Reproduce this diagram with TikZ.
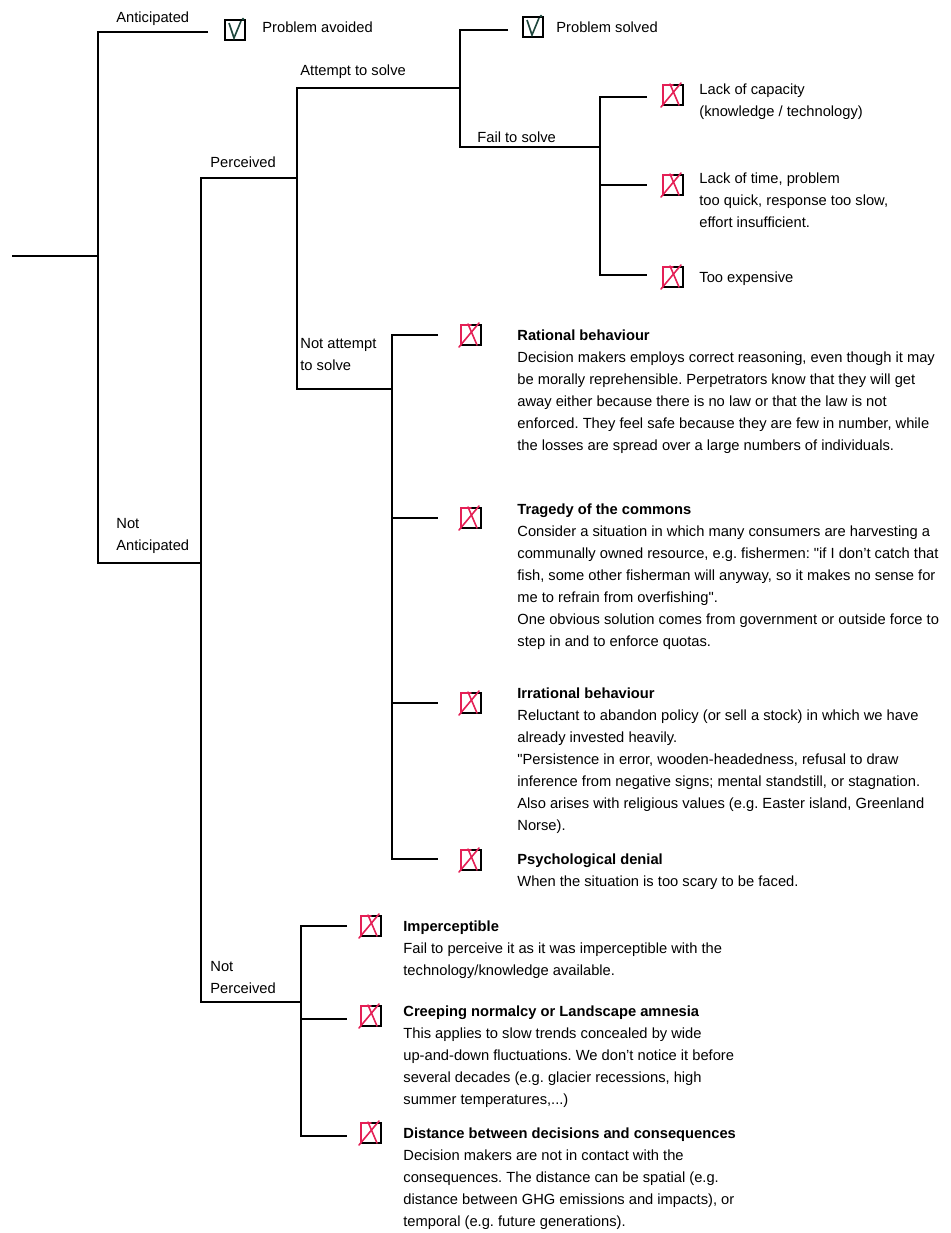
\documentclass[tikz,border=0pt]{standalone}
\usepackage{fontspec}
\setmainfont{Liberation Sans}
\usepackage{tikz}
\definecolor{crossRed}{RGB}{228,32,86}
\definecolor{tickGreen}{RGB}{30,70,60}
\newcommand{\descFont}{\fontsize{7.35pt}{11pt}\selectfont\frenchspacing}
\newcommand{\qq}{\textquotedbl}
\newcommand{\tickBox}[1]{%%
  %% Square with a tick inside.
  \begin{scope}[shift={(#1)}]
    \draw[boxStyle] (-\boxHalf,-\boxHalf) rectangle (\boxHalf,\boxHalf);
    \draw[tickStyle] (-6,-7) -- (-1,8) -- (6,-9);
    \fill[tickGreen] (8,-11) circle[radius=1.5];
  \end{scope}
}
\newcommand{\crossBox}[1]{%%
  %% Square crossed out in red.
  \begin{scope}[shift={(#1)}]
    \draw[boxStyle] (-\boxHalf,-\boxHalf) rectangle (\boxHalf,\boxHalf);
    \draw[crossStyle] (-\boxHalf,\boxHalf) -- (-\boxHalf,-\boxHalf) -- (0,-\boxHalf);
    \draw[crossStyle] (-12,12) -- (8,-12);
    \draw[crossStyle] (-3,-11) -- (6,10);
  \end{scope}
}

\begin{document}
\begin{tikzpicture}[%%
  x=0.5pt,y=-0.5pt,
  treeLine/.style={-,line width=1pt,black},
  boxStyle/.style={line width=0.7pt,black},
  tickStyle/.style={line width=0.8pt,tickGreen},
  crossStyle/.style={line width=0.8pt,crossRed,line cap=round},
  labelStyle/.style={inner sep=0pt,anchor=base west,font=\descFont},
  descStyle/.style={inner sep=0pt,anchor=north west,align=left,font=\descFont}
]
\useasboundingbox (0,0) rectangle (950,1233);
%%
\pgfmathsetmacro{\boxHalf}{10}
\pgfmathsetmacro{\leafLen}{46}
%% Trunk: anticipated or not.
\coordinate (root) at (12,256);
\coordinate (rootJ) at (98,256);
\coordinate (antJ) at (98,32);
\coordinate (antEnd) at (208,32);
\coordinate (notAntJ) at (98,563);
\coordinate (notAntEnd) at (201,563);
\draw[treeLine] (root) -- (rootJ);
\draw[treeLine] (antEnd) -- (antJ) -- (notAntJ) -- (notAntEnd);
%% Perceived or not.
\coordinate (percJ) at (201,178);
\coordinate (percEnd) at (297,178);
\coordinate (notPercJ) at (201,1002);
\coordinate (notPercEnd) at (301,1002);
\draw[treeLine] (percEnd) -- (percJ) -- (notPercJ) -- (notPercEnd);
%% Attempt to solve or not.
\coordinate (attJ) at (297,88);
\coordinate (attEnd) at (460,88);
\coordinate (notAttJ) at (297,389);
\coordinate (notAttEnd) at (392,389);
\draw[treeLine] (attEnd) -- (attJ) -- (notAttJ) -- (notAttEnd);
%% Solved or failed.
\coordinate (solvedJ) at (460,30);
\coordinate (solvedEnd) at (508,30);
\coordinate (failJ) at (460,147);
\coordinate (failEnd) at (600,147);
\draw[treeLine] (solvedEnd) -- (solvedJ) -- (failJ) -- (failEnd);
%% Reasons for failing.
\coordinate (capJ) at (600,97);
\coordinate (capEnd) at (647,97);
\coordinate (timeJ) at (600,185);
\coordinate (timeEnd) at (647,185);
\coordinate (costJ) at (600,275);
\coordinate (costEnd) at (647,275);
\draw[treeLine] (capEnd) -- (capJ) -- (costJ) -- (costEnd);
\draw[treeLine] (timeJ) -- (timeEnd);
%% Reasons for not attempting.
\coordinate (ratJ) at (392,335);
\coordinate (ratEnd) at (392+\leafLen,335);
\coordinate (tragJ) at (392,518);
\coordinate (tragEnd) at (392+\leafLen,518);
\coordinate (irrJ) at (392,703);
\coordinate (irrEnd) at (392+\leafLen,703);
\coordinate (psyJ) at (392,859);
\coordinate (psyEnd) at (392+\leafLen,859);
\draw[treeLine] (ratEnd) -- (ratJ) -- (psyJ) -- (psyEnd);
\draw[treeLine] (tragJ) -- (tragEnd);
\draw[treeLine] (irrJ) -- (irrEnd);
%% Reasons for not perceiving.
\coordinate (impJ) at (301,926);
\coordinate (impEnd) at (301+\leafLen,926);
\coordinate (creepJ) at (301,1019);
\coordinate (creepEnd) at (301+\leafLen,1019);
\coordinate (distJ) at (301,1136);
\coordinate (distEnd) at (301+\leafLen,1136);
\draw[treeLine] (impEnd) -- (impJ) -- (distJ) -- (distEnd);
\draw[treeLine] (creepJ) -- (creepEnd);
%%
%% Check boxes.
\coordinate (avoidBox) at (235,30);
\coordinate (solvedBox) at (533,27);
\coordinate (capBox) at (673,95);
\coordinate (timeBox) at (673,185);
\coordinate (costBox) at (673,277);
\coordinate (ratBox) at (471,335);
\coordinate (tragBox) at (471,518);
\coordinate (irrBox) at (471,703);
\coordinate (psyBox) at (471,860);
\coordinate (impBox) at (371,926);
\coordinate (creepBox) at (371,1016);
\coordinate (distBox) at (371,1133);
\tickBox{avoidBox}
\tickBox{solvedBox}
\crossBox{capBox}
\crossBox{timeBox}
\crossBox{costBox}
\crossBox{ratBox}
\crossBox{tragBox}
\crossBox{irrBox}
\crossBox{psyBox}
\crossBox{impBox}
\crossBox{creepBox}
\crossBox{distBox}
%%
%% Branch labels.
\node[labelStyle] (antLbl) at (116,22) {Anticipated};
\node[descStyle] (notAntLbl) at (116,518) {Not\\Anticipated};
\node[labelStyle] (percLbl) at (210,167) {Perceived};
\node[descStyle] (notPercLbl) at (210,961) {Not\\Perceived};
\node[labelStyle] (attLbl) at (300,75) {Attempt to solve};
\node[descStyle] (notAttLbl) at (300,338) {Not attempt\\to solve};
\node[labelStyle] (failLbl) at (477,142) {Fail to solve};
%%
%% Outcomes.
\node[labelStyle] (avoidTxt) at (262,32) {Problem avoided};
\node[labelStyle] (solvedTxt) at (556,32) {Problem solved};
\node[descStyle] (capTxt) at (699,83) {Lack of capacity\\(knowledge / technology)};
\node[descStyle] (timeTxt) at (699,172) {Lack of time, problem\\too quick, response too slow,\\effort insufficient.};
\node[labelStyle] (costTxt) at (699,282) {Too expensive};
\node[descStyle] (ratTxt) at (517,329) {\textbf{Rational behaviour}\\
  Decision makers employs correct reasoning, even though it may\\
  be morally reprehensible. Perpetrators know that they will get\\
  away either because there is no law or that the law is not\\
  enforced. They feel safe because they are few in number, while\\
  the losses are spread over a large numbers of individuals.};
\node[descStyle] (tragTxt) at (517,503) {\textbf{Tragedy of the commons}\\
  Consider a situation in which many consumers are harvesting a\\
  communally owned resource, e.g. fishermen: \qq if I don't catch that\\
  fish, some other fisherman will anyway, so it makes no sense for\\
  me to refrain from overfishing\qq.\\
  One obvious solution comes from government or outside force to\\
  step in and to enforce quotas.};
\node[descStyle] (irrTxt) at (517,687) {\textbf{Irrational behaviour}\\
  Reluctant to abandon policy (or sell a stock) in which we have\\
  already invested heavily.\\
  \qq Persistence in error, wooden-headedness, refusal to draw\\
  inference from negative signs; mental standstill, or stagnation.\\
  Also arises with religious values (e.g. Easter island, Greenland\\
  Norse).};
\node[descStyle] (psyTxt) at (517,853) {\textbf{Psychological denial}\\
  When the situation is too scary to be faced.};
\node[descStyle] (impTxt) at (403,920) {\textbf{Imperceptible}\\
  Fail to perceive it as it was imperceptible with the\\
  technology/knowledge available.};
\node[descStyle] (creepTxt) at (403,1005) {\textbf{Creeping normalcy or Landscape amnesia}\\
  This applies to slow trends concealed by wide\\
  up-and-down fluctuations. We don't notice it before\\
  several decades (e.g. glacier recessions, high\\
  summer temperatures,...)};
\node[descStyle] (distTxt) at (403,1127) {\textbf{Distance between decisions and consequences}\\
  Decision makers are not in contact with the\\
  consequences. The distance can be spatial (e.g.\\
  distance between GHG emissions and impacts), or\\
  temporal (e.g. future generations).};
\end{tikzpicture}
\end{document}
